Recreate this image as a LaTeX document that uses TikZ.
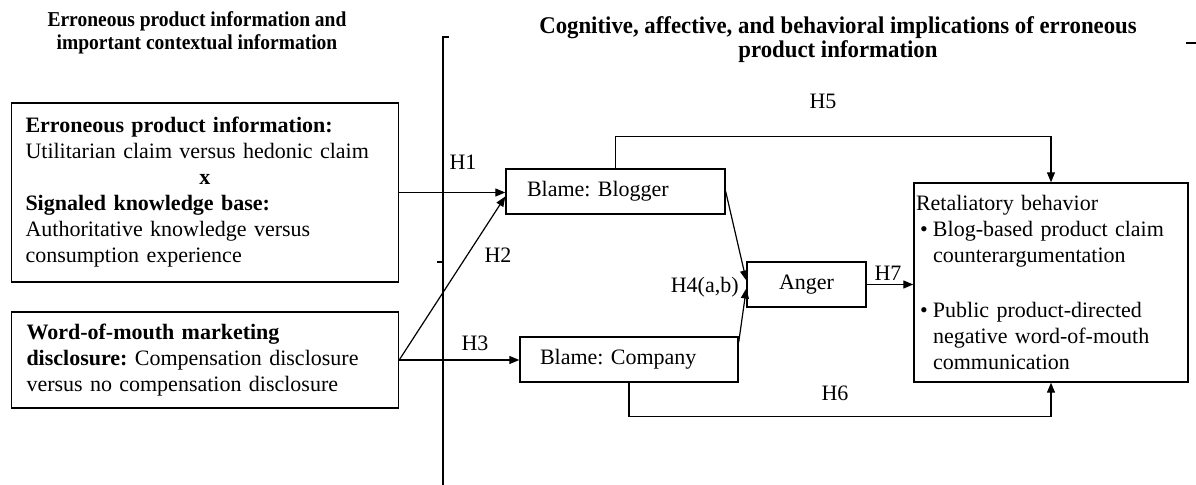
\documentclass[tikz,border=0pt]{standalone}
\usepackage{fontspec}
\setmainfont{Liberation Serif}
\newfontfamily\hdfont{Liberation Serif}[FakeStretch=0.92]
\newfontfamily\hdfontb{Liberation Serif}[FakeStretch=0.95]
\usetikzlibrary{arrows.meta,calc}
\frenchspacing
\begin{document}
\begin{tikzpicture}[x=0.5pt,y=-0.5pt,
  every node/.style={font=\frenchspacing\fontsize{11}{13}\selectfont},
  box/.style={draw, line width=0.7pt, inner ysep=0pt, align=left},
  lbl/.style={inner sep=0pt},
  hd/.style={font=\hdfont\bfseries\fontsize{10.6}{11.8}\selectfont, align=center, inner sep=0pt},
  hdb/.style={font=\hdfontb\bfseries\fontsize{12}{12}\selectfont, align=center, inner sep=0pt},
  arr/.style={line width=0.6pt, -{Triangle[length=5pt,width=4pt]}},
  ln/.style={line width=0.6pt}]
\useasboundingbox (0,0) rectangle (1196,485);

\node[hd] (hl) at (197,33) {Erroneous product information and\\important contextual information};
\node[hdb] (hr) at (838,40) {Cognitive, affective, and behavioral implications of erroneous\\product information};

\node[box, minimum width=193.5pt, minimum height=89.5pt, inner xsep=7pt, text width=179.5pt] (b1) at (205,192.5)
  {\textbf{Erroneous product information:}\\Utilitarian claim versus hedonic claim\\\makebox[\linewidth]{\textbf{x}}\\\textbf{Signaled knowledge base:}\\Authoritative knowledge versus\\consumption experience};
\node[box, minimum width=193.5pt, minimum height=48pt, inner xsep=7.5pt, text width=178.5pt] (b2) at (205,360)
  {\textbf{Word-of-mouth marketing}\\\textbf{disclosure:} Compensation disclosure\\versus no compensation disclosure};

\node[box, minimum width=109.5pt, minimum height=22.5pt, inner xsep=10.5pt, text width=88.5pt] (bb) at (615.5,191.5) {Blame: Blogger};
\node[box, minimum width=109pt, minimum height=22.5pt, inner xsep=10pt, text width=89pt] (bc) at (629,359.5) {Blame: Company};
\node[box, align=center, minimum width=59.5pt, minimum height=22.5pt] (an) at (806.5,284.5) {Anger};
\node[box, minimum width=137pt, minimum height=99.5pt, inner xsep=1pt, text width=135pt] (rt) at (1051,282.5)
  {Retaliatory behavior\\
   \makebox[8.5pt][l]{\hspace{2pt}\textbullet}Blog-based product claim\\
   \hspace*{8.5pt}counterargumentation\\[14.5pt]
   \makebox[8.5pt][l]{\hspace{2pt}\textbullet}Public product-directed\\
   \hspace*{8.5pt}negative word-of-mouth\\
   \hspace*{8.5pt}communication};

% divider
\draw[ln] (449,37) -- (443,37) -- (443,485);
\draw[ln] (437,262) -- (443,262);
\draw[ln] (1186,43) -- (1196,43);

% connectors
\draw[arr] (b1.east) -- (b1.east -| bb.west);
\draw[arr] (b2.east) -- ($(bb.west)+(0,5)$);
\draw[arr] (b2.east) -- (b2.east -| bc.west);
\draw[arr] (bb.east) -- ($(an.west)+(0,-4)$);
\draw[arr] ($(bc.north east)+(0,6)$) -- ($(an.west)+(0,4)$);
\draw[arr] (an.east) -- (an.east -| rt.west);
\draw[arr] (bb.north) -- ++(0,-32) -| (rt.north);
\draw[arr] (bc.south) -- ++(0,34) -| (rt.south);

% labels
\node[lbl] (h1) at (463,162) {H1};
\node[lbl] (h2) at (498,255) {H2};
\node[lbl] (h3) at (475,343) {H3};
\node[lbl, anchor=east] (h4) at (739,287) {H4(a,b)};
\node[lbl] (h5) at (823,101) {H5};
\node[lbl] (h6) at (835,393) {H6};
\node[lbl] (h7) at (888,273) {H7};
\end{tikzpicture}
\end{document}
